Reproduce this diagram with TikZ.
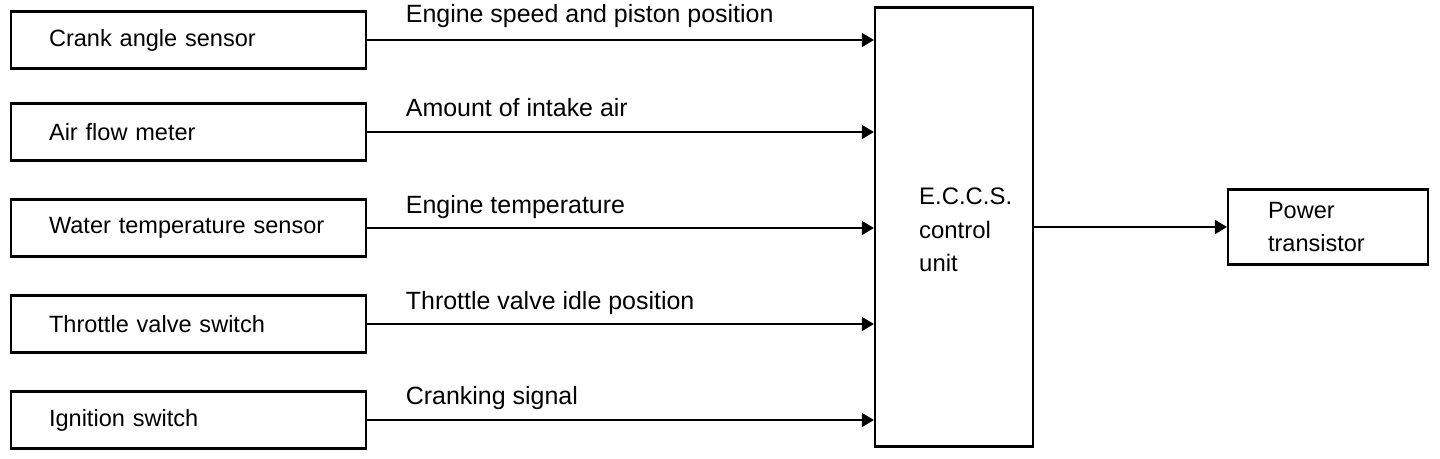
\documentclass[tikz,border=0pt]{standalone}
\usepackage{fontspec}
\setmainfont{Liberation Sans}
\usepackage{tikz}
\usetikzlibrary{arrows.meta, positioning, calc}
\tikzset{
  sensorbox/.style={
    draw, line width=1.2pt, align=left, anchor=west,
    text width=5.58cm, inner xsep=0.76cm,
    minimum height=1.14cm, font=\fontsize{13.4}{18}\selectfont
  },
  ecubox/.style={
    draw, line width=1.3pt,
    minimum width=3.16cm, minimum height=8.78cm
  },
  outbox/.style={
    draw, line width=1.2pt, align=left,
    text width=2.4cm, inner xsep=0.8cm,
    minimum height=1.5cm, font=\fontsize{13.4}{18.5}\selectfont
  },
  sigarrow/.style={
    -{Triangle[length=2.4mm, width=2.8mm]}, line width=1pt
  },
  siglabel/.style={
    font=\fontsize{14.2}{19}\selectfont, anchor=base west, inner sep=0pt
  },
}
\begin{document}
\begin{tikzpicture}[x=0.02cm, y=-0.02cm]
  \useasboundingbox (0,0) rectangle (1440,458);

  % ── Sensors (left) ──
  \node[sensorbox] (crank)    at (10, 40)  {Crank angle sensor};
  \node[sensorbox] (airflow)  at (10, 132) {Air flow meter};
  \node[sensorbox] (water)    at (10, 228) {Water temperature sensor};
  \node[sensorbox] (throttle) at (10, 324) {Throttle valve switch};
  \node[sensorbox] (ignition) at (10, 420) {Ignition switch};

  % ── Control unit ──
  \node[ecubox] (eccs) at (954, 227) {};
  \node[siglabel, anchor=west, align=left, font=\fontsize{13.6}{19}\selectfont] (eccstext)
    at ([xshift=0.9cm, yshift=-0.06cm]eccs.west) {E.C.C.S.\\control\\unit};

  % ── Output ──
  \node[outbox] (power) at (1328, 227) {Power\\transistor};

  % ── Signals ──
  \draw[sigarrow] (crank) -- (crank -| eccs.west)
    node[siglabel, pos=0, xshift=0.76cm, yshift=0.36cm] {Engine speed and piston position};
  \draw[sigarrow] (airflow) -- (airflow -| eccs.west)
    node[siglabel, pos=0, xshift=0.76cm, yshift=0.32cm] {Amount of intake air};
  \draw[sigarrow] (water) -- (water -| eccs.west)
    node[siglabel, pos=0, xshift=0.76cm, yshift=0.30cm] {Engine temperature};
  \draw[sigarrow] (throttle) -- (throttle -| eccs.west)
    node[siglabel, pos=0, xshift=0.76cm, yshift=0.30cm] {Throttle valve idle position};
  \draw[sigarrow] (ignition) -- (ignition -| eccs.west)
    node[siglabel, pos=0, xshift=0.76cm, yshift=0.32cm] {Cranking signal};

  \draw[sigarrow] (power.west -| eccs.east) -- (power);
\end{tikzpicture}
\end{document}
